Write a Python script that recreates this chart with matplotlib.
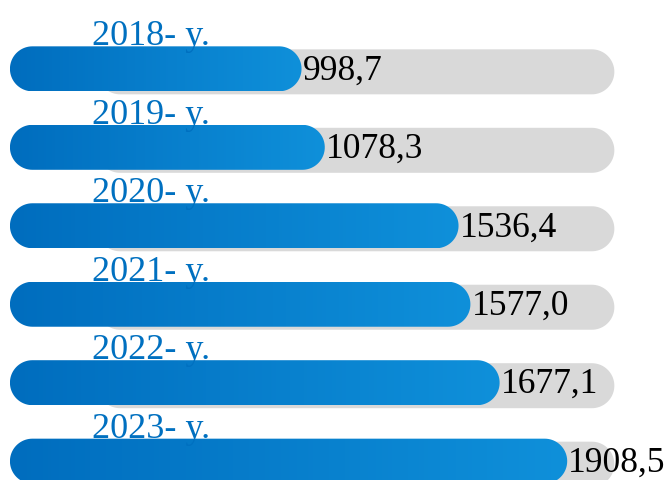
import matplotlib.pyplot as plt
import numpy as np
from matplotlib.patches import Polygon
from matplotlib.colors import LinearSegmentedColormap

years = ["2018- y.", "2019- y.", "2020- y.", "2021- y.", "2022- y.", "2023- y."]
values = [998.7, 1078.3, 1536.4, 1577.0, 1677.1, 1908.5]
value_labels = ["998,7", "1078,3", "1536,4", "1577,0", "1677,1", "1908,5"]
track_start = 300.0
track_end = 2070.0

W, H = 671, 481
fig = plt.figure(figsize=(W / 100, H / 100), dpi=100)
ax = fig.add_axes([0, 0, 1, 1])
xmin, xmax = -34.0, 2264.0
ymin, ymax = 5.24, -0.89
xupp = (xmax - xmin) / W
yupp = abs(ymin - ymax) / H

bar_px = 45
bar_h = bar_px * yupp
rx = (bar_px / 2) * xupp
ry = bar_h / 2


def stadium(x0, x1, yc):
    t1 = np.linspace(-np.pi / 2, np.pi / 2, 40)
    right = np.column_stack([x1 - rx + rx * np.cos(t1), yc + ry * np.sin(t1)])
    t2 = np.linspace(np.pi / 2, 3 * np.pi / 2, 40)
    left = np.column_stack([x0 + rx + rx * np.cos(t2), yc + ry * np.sin(t2)])
    return np.vstack([right, left])


cmap = LinearSegmentedColormap.from_list("blue", ["#006DBE", "#0F90DA"])
grad = np.linspace(0, 1, 256).reshape(1, -1)

for i, (yr, v, lab) in enumerate(zip(years, values, value_labels)):
    gy = i + 3 * yupp
    track = Polygon(stadium(track_start, track_end, gy), closed=True,
                    facecolor="#D9D9D9", edgecolor="none", zorder=1)
    ax.add_patch(track)
    bar = Polygon(stadium(0, v, i), closed=True, facecolor="none",
                  edgecolor="none", zorder=2)
    ax.add_patch(bar)
    im = ax.imshow(grad, extent=[0, v, i + ry, i - ry], cmap=cmap,
                   aspect="auto", zorder=2, interpolation="bilinear")
    im.set_clip_path(bar)
    ax.text(280, i - ry - 2 * yupp, yr, family="Liberation Serif", fontsize=26,
            color="#0070C0", va="baseline", ha="left", zorder=4)
    ax.text(v + 1 * xupp, i + 1 * yupp, lab, family="Liberation Serif", fontsize=25.5,
            color="black", va="center", ha="left", zorder=4)

ax.set_xlim(xmin, xmax)
ax.set_ylim(ymin, ymax)
ax.axis("off")
fig.savefig("out.png", dpi=100)
